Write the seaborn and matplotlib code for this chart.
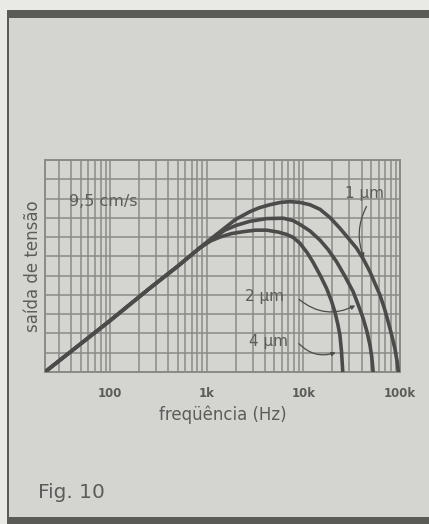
import numpy as np
import pandas as pd
import matplotlib
matplotlib.use("Agg")
import matplotlib.pyplot as plt
from matplotlib.patches import Rectangle
from matplotlib.ticker import LogLocator, NullFormatter
import seaborn as sns

# common rising part
trunk_freq = [22, 100, 260, 500, 850]
trunk_db = [0.3, 13.3, 21.8, 27.4, 32.2]

# head gap curves after the split
freq_1um = [1100, 1545, 2000, 2806, 3500, 4518, 5800, 7264, 9223, 11700, 14900, 19000,
            23900, 29000, 35600, 42000, 48900, 55000, 62000, 69000, 75500, 82000, 88500, 93000, 96200]
db_1um = [34.5, 37.4, 39.6, 41.6, 42.6, 43.4, 44.0, 44.2, 44.0, 43.4, 42.2, 40.0,
          37.3, 34.8, 32.1, 29.2, 26.0, 23.0, 20.0, 16.5, 13.0, 9.6, 6.1, 3.0, 0.0]

freq_2um = [1100, 1545, 2000, 2806, 4170, 6190, 7800, 9223, 11700, 14900, 18000,
            22100, 27000, 32800, 37000, 41600, 45500, 48900, 51000, 52800]
db_2um = [34.3, 36.8, 38.0, 39.1, 39.8, 39.9, 39.3, 38.3, 36.6, 34.2, 31.8,
          28.6, 24.8, 20.8, 17.4, 13.9, 10.5, 7.0, 4.0, 0.0]

freq_4um = [1100, 1373, 1800, 2388, 3200, 4170, 5500, 6700, 7870, 9223, 11000, 12600,
            15000, 17400, 19500, 21200, 22700, 23900, 24800, 25600]
db_4um = [34.0, 35.0, 35.9, 36.4, 36.8, 36.8, 36.3, 35.7, 34.9, 33.4, 30.9, 28.5,
          25.0, 21.7, 18.5, 15.6, 12.5, 9.6, 5.5, 0.0]

curve_names = ["1 µm", "2 µm", "4 µm"]
xtick_vals = [100, 1000, 10000, 100000]
xtick_labels = ["100", "1k", "10k", "100k"]

rows = []
for name, fr, db in zip(curve_names, [freq_1um, freq_2um, freq_4um], [db_1um, db_2um, db_4um]):
    for f, d in zip(trunk_freq + fr, trunk_db + db):
        rows.append({"curve": name, "freq": f, "db": d})
df = pd.DataFrame(rows)

paper = "#d4d4d0"
ink = "#4b4c49"
grid_col = "#8a8a86"
text_col = "#5c5c5a"
frame_col = "#5a5a56"

sns.set_style("white", {"axes.facecolor": paper})
plt.rcParams["font.family"] = ["DejaVu Sans"]

fig = plt.figure(figsize=(4.29, 5.24), dpi=100)
fig.patch.set_facecolor("#e9e9e5")

# panel with dark frame (behind the axes)
for rect, col in [((8 / 429, 0, 1, 1 - 14 / 524), paper),
                  ((7 / 429, 1 - 18 / 524, 1, 8 / 524), frame_col),
                  ((7 / 429, 0, 2 / 429, 1 - 10 / 524), frame_col),
                  ((7 / 429, 0, 1, 7 / 524), frame_col)]:
    x0, y0, w, h = rect
    fig.patches.append(Rectangle((x0, y0), w, h, transform=fig.transFigure,
                                 facecolor=col, edgecolor="none", zorder=-5))

ax = fig.add_axes([45 / 429, 152 / 524, 355 / 429, 212 / 524])
ax.set_zorder(5)
ax.set_facecolor(paper)

sns.lineplot(data=df, x="freq", y="db", hue="curve", palette=[ink] * 3,
             linewidth=2.6, sort=False, legend=False, ax=ax, zorder=3)

ax.set_xscale("log")
ax.set_xlim(21.3, 100000)
ax.set_ylim(0, 55)

ax.xaxis.set_minor_locator(LogLocator(base=10, subs=np.arange(2, 10), numticks=20))
ax.xaxis.set_minor_formatter(NullFormatter())
ax.set_xticks(xtick_vals)
ax.set_xticklabels(xtick_labels, fontsize=8.5, fontweight="bold", color=text_col)
ax.set_yticks(np.arange(0, 56, 5))
ax.set_yticklabels([])
ax.tick_params(which="both", length=0)
ax.tick_params(axis="x", pad=11)
ax.tick_params(axis="y", pad=0)
ax.grid(which="both", axis="x", color=grid_col, linewidth=1.1)
ax.grid(which="major", axis="y", color=grid_col, linewidth=1.1)
for s in ax.spines.values():
    s.set_color(grid_col)
    s.set_linewidth(1.4)

ax.set_xlabel("freqüência (Hz)", fontsize=12, color=text_col, labelpad=4)
ax.set_ylabel("saída de tensão", fontsize=12, color=text_col, labelpad=2)

ax.text(38, 44.2, "9,5 cm/s", fontsize=11.5, color=text_col, va="center", ha="left", zorder=4)
ax.text(43400, 46.4, "1 µm", fontsize=11, color=text_col, va="center", ha="center", zorder=4)
ax.text(4000, 19.5, "2 µm", fontsize=11, color=text_col, va="center", ha="center", zorder=4)
ax.text(4400, 7.9, "4 µm", fontsize=11, color=text_col, va="center", ha="center", zorder=4)

lead = dict(arrowstyle="-|>", mutation_scale=6, color=ink, lw=0.9)
ax.annotate("", xy=(43500, 29.0), xytext=(46500, 43.6),
            arrowprops=dict(lead, connectionstyle="arc3,rad=0.25"), zorder=4)
ax.annotate("", xy=(36500, 17.6), xytext=(8600, 19.3),
            arrowprops=dict(lead, connectionstyle="arc3,rad=0.35"), zorder=4)
ax.annotate("", xy=(23000, 5.3), xytext=(8600, 7.9),
            arrowprops=dict(lead, connectionstyle="arc3,rad=0.35"), zorder=4)

fig.text(38 / 429, 1 - 493 / 524, "Fig. 10", fontsize=14.5, color=text_col, va="center", ha="left")

fig.savefig("out.png", dpi=100, facecolor=fig.get_facecolor())
